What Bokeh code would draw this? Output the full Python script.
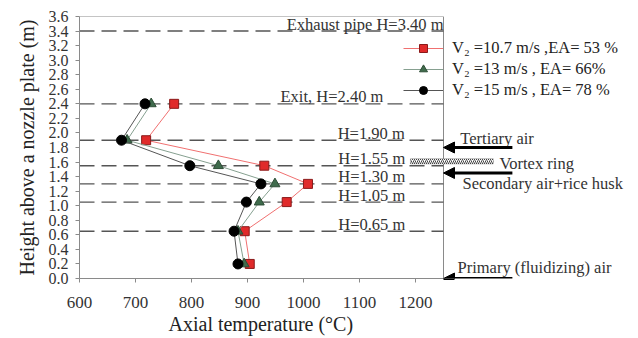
from bokeh.plotting import figure
from bokeh.models import (FixedTicker, Arrow, NormalHead, BoxAnnotation, Title,
                          Legend, LegendItem, NumeralTickFormatter, ColumnDataSource)
from bokeh.core.properties import value
from bokeh.embed import file_html
from bokeh.resources import INLINE

# ---- data ----
heights = [0.20, 0.65, 1.05, 1.30, 1.55, 1.90, 2.40]
temp_ea53 = [904, 895, 970, 1008, 930, 719, 769]
temp_ea66 = [894, 883, 921, 949, 848, 685, 728]
temp_ea78 = [883, 876, 898, 924, 797, 675, 717]
series_labels = ["V\u2082 =10.7 m/s ,EA= 53 %", "V\u2082 =13 m/s , EA= 66%", "V\u2082 =15 m/s , EA= 78 %"]

x_ticks = [600, 700, 800, 900, 1000, 1100, 1200]
y_ticks = [round(0.2 * i, 1) for i in range(19)]
x_lo, x_hi = 600, 1250      # visible temperature axis
y_lo, y_hi = 0.0, 3.6       # visible height axis

levels = [3.40, 2.40, 1.90, 1.55, 1.30, 1.05, 0.65]
level_labels = ["Exhaust pipe H=3.40 m", "Exit, H=2.40 m", "H=1.90 m", "H=1.55 m",
                "H=1.30 m", "H=1.05 m", "H=0.65 m"]
level_label_x = [1250, 959, 1061, 1062, 1062, 1062, 1062]
level_label_align = ["right", "left", "left", "left", "left", "left", "left"]

air_inlets = ["Tertiary air", "Secondary air+rice husk", "Primary (fluidizing) air"]
air_arrow_y = [1.80, 1.45, 0.0]
air_text_y = [1.93, 1.30, 0.15]
air_text_x = [1280, 1284, 1275]
arrow_tail_x = 1373

FONT = "Liberation Serif"

W, H = 636, 336
LEFT, TOP, BOTTOM = 79, 16, 58
frame_w = W - LEFT
x_end = x_lo + frame_w * (x_hi - x_lo) / 364.0

p = figure(width=W, height=H, x_range=(x_lo, x_end), y_range=(y_lo, y_hi),
           output_backend="svg", toolbar_location=None,
           min_border_left=LEFT, min_border_right=0, min_border_top=TOP,
           min_border_bottom=BOTTOM)
p.background_fill_color = "white"
p.border_fill_color = "white"
p.grid.visible = False
p.outline_line_color = None

# axes
p.xaxis.ticker = FixedTicker(ticks=x_ticks)
p.yaxis.ticker = FixedTicker(ticks=y_ticks)
p.yaxis.formatter = NumeralTickFormatter(format="0.0")
p.xaxis.bounds = (x_lo, x_hi)
for ax in (p.xaxis[0], p.yaxis[0]):
    ax.axis_line_color = "#8a8a8a"
    ax.major_tick_line_color = "#8a8a8a"
    ax.minor_tick_line_color = None
    ax.major_tick_in = 0
    ax.major_tick_out = 4
    ax.major_label_text_font = FONT
    ax.major_label_text_color = "#333333"
    ax.axis_label_text_font = FONT
    ax.axis_label_text_font_style = "normal"
    ax.axis_label_text_color = "#222222"
    ax.axis_label_text_font_size = "20px"
p.xaxis.major_label_text_font_size = "17px"
p.yaxis.major_label_text_font_size = "16px"
p.xaxis.major_label_standoff = 14
p.yaxis.major_label_standoff = 7
p.yaxis.axis_label = "Height above a nozzle plate (m)"
p.yaxis.axis_label_standoff = 8

# x-axis title, centred under the temperature axis (not under the whole frame)
p.add_layout(Title(text="Axial temperature (\u00b0C)", align="left", offset=89,
                   text_font=FONT, text_font_size="20px", text_font_style="normal",
                   text_color="#222222", standoff=0), "below")

# frame: top and right border of the temperature axis box
p.segment(x0=[x_lo, x_hi], y0=[y_hi, y_lo], x1=[x_hi, x_hi], y1=[y_hi, y_hi],
          line_color="#8a8a8a", line_width=1)

# dashed reference levels
p.segment(x0=[x_lo] * len(levels), x1=[x_hi] * len(levels), y0=levels, y1=levels,
          line_color="#555555", line_width=1.4, line_dash="15 7")
p.text(x=level_label_x, y=levels, text=level_labels,
       text_align=level_label_align, text_baseline="middle", y_offset=-7,
       text_font=value(FONT), text_font_size="16.5px", text_color="#333333")

# series
src = ColumnDataSource(dict(h=heights, a=temp_ea53, b=temp_ea66, c=temp_ea78))
l1 = p.line("a", "h", source=src, line_color="#f07070", line_width=1)
m1 = p.scatter("a", "h", source=src, marker="square", size=9,
               fill_color="#e02a2a", line_color="#8b1a1a", line_width=1)
l2 = p.line("b", "h", source=src, line_color="#86a090", line_width=1)
m2 = p.scatter("b", "h", source=src, marker="triangle", size=10,
               fill_color="#3f6b4c", line_color="#2d4d36", line_width=1)
l3 = p.line("c", "h", source=src, line_color="#555555", line_width=1)
m3 = p.scatter("c", "h", source=src, marker="circle", size=10,
               fill_color="#000000", line_color="#000000", line_width=1)

legend = Legend(items=[LegendItem(label=series_labels[0], renderers=[l1, m1]),
                       LegendItem(label=series_labels[1], renderers=[l2, m2]),
                       LegendItem(label=series_labels[2], renderers=[l3, m3])],
                location=(324, 178), orientation="vertical",
                glyph_width=40, glyph_height=20, label_height=20, spacing=1,
                label_standoff=9, padding=0, margin=0,
                border_line_color=None, background_fill_alpha=0,
                label_text_font=FONT, label_text_font_size="16.5px",
                label_text_color="#222222")
p.add_layout(legend, "center")

# air inlets (to the right of the temperature axis box)
for ay in air_arrow_y:
    p.add_layout(Arrow(end=NormalHead(size=11, fill_color="black", line_color="black"),
                       x_start=arrow_tail_x, y_start=ay, x_end=x_hi, y_end=ay,
                       line_color="black", line_width=3))
p.text(x=air_text_x, y=air_text_y, text=air_inlets, text_align="left",
       text_baseline="middle", text_font=value(FONT), text_font_size="16.5px",
       text_color="#333333")

# vortex ring
p.add_layout(BoxAnnotation(left=1191, right=1339, bottom=1.575, top=1.645,
                           fill_color="white", fill_alpha=1, line_color="#444444",
                           line_width=1, hatch_pattern="/", hatch_color="#444444",
                           hatch_scale=4, hatch_weight=1))
p.text(x=[1350], y=[1.58], text=["Vortex ring"], text_align="left",
       text_baseline="middle", text_font=value(FONT), text_font_size="16.5px",
       text_color="#333333")

open("out.html", "w").write(file_html(p, INLINE))
